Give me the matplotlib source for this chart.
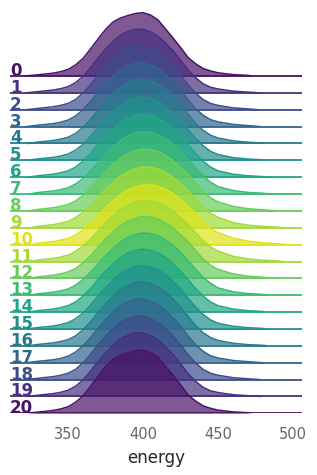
import matplotlib.pyplot as plt
import matplotlib.transforms as mtransforms

# Ridge heights (px above each baseline) at these energies
energy_grid = [320, 330, 340, 345, 350, 355, 360, 365, 370, 375, 380, 385, 390, 395, 400,
               405, 410, 415, 420, 425, 430, 435, 440, 445, 450, 460, 470, 480, 490, 500]

heights = [
    [0.3, 1.2, 2.8, 4.3, 6.5, 11.0, 17.5, 27.0, 37.0, 46.5, 54.0, 58.0, 60.5, 62.5, 63.3, 61.0, 56.0, 47.0, 38.0, 28.5, 18.5, 12.3, 7.5, 5.0, 3.2, 1.4, 0.6, 0, 0, 0],
    [0.5, 1.2, 2.8, 4.1, 6.2, 10.2, 16.4, 25.2, 34.9, 43.5, 51.5, 57.7, 61.5, 63.7, 63.4, 61.0, 56.5, 49.7, 42.1, 32.6, 22.8, 15.2, 9.1, 5.6, 3.9, 1.7, 0.7, 0.3, 0, 0],
    [0.5, 1.3, 2.9, 4.3, 6.3, 10.2, 16.7, 25.0, 34.7, 43.2, 50.8, 57.0, 61.0, 63.2, 63.2, 61.0, 57.0, 50.8, 43.2, 34.7, 25.0, 16.7, 10.2, 6.3, 4.3, 1.9, 0.8, 0.3, 0, 0],
    [0.5, 1.4, 2.9, 4.3, 6.5, 10.6, 16.8, 25.2, 34.3, 43.0, 50.6, 56.8, 61.2, 63.5, 63.7, 61.7, 58.0, 52.3, 44.8, 36.6, 26.9, 18.0, 11.5, 6.9, 4.7, 2.2, 1.0, 0.4, 0, 0],
    [0.5, 1.4, 2.9, 4.3, 6.2, 9.9, 16.1, 24.0, 33.2, 42.1, 49.7, 56.3, 60.7, 63.1, 63.9, 62.4, 58.9, 53.8, 46.6, 38.7, 29.4, 20.2, 13.2, 8.3, 5.4, 2.6, 1.2, 0.5, 0.2, 0],
    [0.6, 1.4, 2.9, 4.3, 6.3, 10.2, 16.0, 23.8, 32.9, 41.3, 48.9, 55.5, 59.7, 62.5, 63.4, 62.1, 59.0, 54.2, 47.6, 39.9, 30.7, 22.1, 14.7, 9.0, 5.8, 2.7, 1.3, 0.5, 0.2, 0],
    [0.6, 1.4, 3.0, 4.4, 6.4, 10.1, 16.1, 23.6, 32.6, 41.0, 48.1, 54.8, 59.0, 61.9, 63.0, 61.9, 59.0, 54.8, 48.1, 41.0, 32.6, 23.6, 16.1, 10.1, 6.4, 3.0, 1.4, 0.6, 0.2, 0],
    [0.6, 1.5, 3.0, 4.3, 6.2, 10.0, 15.7, 22.9, 31.3, 39.7, 46.8, 53.3, 58.1, 61.1, 62.4, 61.7, 59.4, 55.5, 49.9, 42.9, 34.6, 26.3, 18.1, 11.9, 7.4, 3.5, 1.6, 0.8, 0.3, 0],
    [0.6, 1.5, 3.1, 4.5, 6.4, 9.9, 15.6, 22.7, 31.0, 39.4, 46.4, 52.9, 57.1, 60.3, 61.8, 61.4, 59.3, 55.6, 50.3, 43.4, 36.6, 28.0, 19.6, 13.1, 9.0, 4.5, 2.2, 1.1, 0.4, 0],
    [0.7, 1.5, 3.1, 4.5, 6.3, 10.1, 15.6, 22.3, 30.5, 38.7, 45.3, 51.7, 56.0, 59.2, 60.7, 60.6, 58.7, 55.3, 50.6, 44.0, 36.9, 29.0, 20.7, 14.5, 10.5, 5.2, 2.6, 1.3, 0.5, 0],
    [0.7, 1.5, 3.0, 4.4, 6.2, 9.6, 15.1, 21.4, 29.0, 37.2, 43.7, 50.1, 54.6, 57.7, 59.6, 59.7, 58.2, 55.3, 51.2, 44.9, 38.6, 31.1, 23.0, 16.1, 12.0, 6.5, 3.5, 1.8, 0.8, 0.3],
    [0.7, 1.5, 3.1, 4.5, 6.3, 10.1, 15.6, 22.3, 30.5, 38.7, 45.3, 51.7, 56.0, 59.2, 60.7, 60.6, 58.7, 55.3, 50.6, 44.0, 36.9, 29.0, 20.7, 14.5, 10.5, 5.2, 2.6, 1.3, 0.5, 0],
    [0.6, 1.5, 3.1, 4.5, 6.4, 9.9, 15.6, 22.7, 31.0, 39.4, 46.4, 52.9, 57.1, 60.3, 61.8, 61.4, 59.3, 55.6, 50.3, 43.4, 36.6, 28.0, 19.6, 13.1, 9.0, 4.5, 2.2, 1.1, 0.4, 0],
    [0.6, 1.5, 3.0, 4.3, 6.2, 10.0, 15.7, 22.9, 31.3, 39.7, 46.8, 53.3, 58.1, 61.1, 62.4, 61.7, 59.4, 55.5, 49.9, 42.9, 34.6, 26.3, 18.1, 11.9, 7.4, 3.5, 1.6, 0.8, 0.3, 0],
    [0.6, 1.4, 3.0, 4.4, 6.4, 10.1, 16.1, 23.6, 32.6, 41.0, 48.1, 54.8, 59.0, 61.9, 63.0, 61.9, 59.0, 54.8, 48.1, 41.0, 32.6, 23.6, 16.1, 10.1, 6.4, 3.0, 1.4, 0.6, 0.2, 0],
    [0.6, 1.4, 2.9, 4.3, 6.3, 10.2, 16.0, 23.8, 32.9, 41.3, 48.9, 55.5, 59.7, 62.5, 63.4, 62.1, 59.0, 54.2, 47.6, 39.9, 30.7, 22.1, 14.7, 9.0, 5.8, 2.7, 1.3, 0.5, 0.2, 0],
    [0.5, 1.4, 2.9, 4.3, 6.2, 9.9, 16.1, 24.0, 33.2, 42.1, 49.7, 56.3, 60.7, 63.1, 63.9, 62.4, 58.9, 53.8, 46.6, 38.7, 29.4, 20.2, 13.2, 8.3, 5.4, 2.6, 1.2, 0.5, 0.2, 0],
    [0.5, 1.4, 2.9, 4.3, 6.5, 10.6, 16.8, 25.2, 34.3, 43.0, 50.6, 56.8, 61.2, 63.5, 63.7, 61.7, 58.0, 52.3, 44.8, 36.6, 26.9, 18.0, 11.5, 6.9, 4.7, 2.2, 1.0, 0.4, 0, 0],
    [0.5, 1.3, 2.9, 4.3, 6.3, 10.2, 16.7, 25.0, 34.7, 43.2, 50.8, 57.0, 61.0, 63.2, 63.2, 61.0, 57.0, 50.8, 43.2, 34.7, 25.0, 16.7, 10.2, 6.3, 4.3, 1.9, 0.8, 0.3, 0, 0],
    [0.5, 1.2, 2.8, 4.1, 6.2, 10.2, 16.4, 25.2, 34.9, 43.5, 51.5, 57.7, 61.5, 63.7, 63.4, 61.0, 56.5, 49.7, 42.1, 32.6, 22.8, 15.2, 9.1, 5.6, 3.9, 1.7, 0.7, 0.3, 0, 0],
    [0.3, 1.2, 2.8, 4.3, 6.5, 11.0, 17.5, 27.0, 37.0, 46.5, 54.0, 58.0, 60.5, 62.5, 63.3, 61.0, 56.0, 47.0, 38.0, 28.5, 18.5, 12.3, 7.5, 5.0, 3.2, 1.4, 0.6, 0, 0, 0],
]

row_labels = [str(i) for i in range(21)]
left_end = [321, 322, 322, 322, 323, 323, 323, 324, 324, 325, 325,
            325, 324, 324, 323, 323, 323, 322, 322, 322, 321]
right_end = [473, 478, 476.7, 478, 480.7, 482, 484.7, 486, 489, 493, 497,
             493, 488.7, 483.3, 482, 481.3, 483, 480, 477.6, 478, 473]
xticks = [350, 400, 450, 500]

# position of each row in the viridis map (mirrored around row 10)
color_pos = [0.05, 0.14, 0.23, 0.32, 0.41, 0.50, 0.59, 0.68, 0.77, 0.86, 0.95,
             0.86, 0.77, 0.68, 0.59, 0.50, 0.41, 0.32, 0.23, 0.14, 0.05]

row_gap = 16.87  # px between baselines

fig = plt.figure(figsize=(3.17, 4.75), dpi=100)
ax = fig.add_axes([10 / 317, 1 - 413.3 / 475, 292 / 317, 413.3 / 475])

label_trans = mtransforms.blended_transform_factory(ax.transAxes, ax.transData)

for i, h in enumerate(heights):
    lo, hi = left_end[i], right_end[i]
    xs = [lo] + [x for x in energy_grid if lo < x < hi] + [hi]
    ys = [0] + [v for x, v in zip(energy_grid, h) if lo < x < hi] + [0]
    base = -i * row_gap
    col = plt.cm.viridis(color_pos[i])
    top = [base + v for v in ys]
    ax.fill_between(xs, base, top, color=col, alpha=0.7, lw=0, zorder=4 * i)
    ax.plot(xs, top, color=col, lw=1.1, zorder=4 * i + 1, solid_joinstyle='round')
    ax.axhline(base, color=col, lw=1.3, zorder=4 * i + 2)
    ax.text(0, base, row_labels[i], transform=label_trans, color=col,
            fontsize=12, fontweight='bold', ha='left', va='baseline',
            zorder=4 * i + 3)

ax.set_xlim(311.3, 506)
ax.set_ylim(-20 * row_gap, 76)
for s in ax.spines.values():
    s.set_visible(False)
ax.set_yticks([])
ax.set_xticks(xticks)
ax.tick_params(axis='x', length=0, pad=10, labelsize=10.5, labelcolor='#666666')
ax.set_xlabel('energy', fontsize=12, color='#262626', labelpad=5)

fig.savefig('out.png', dpi=100)
